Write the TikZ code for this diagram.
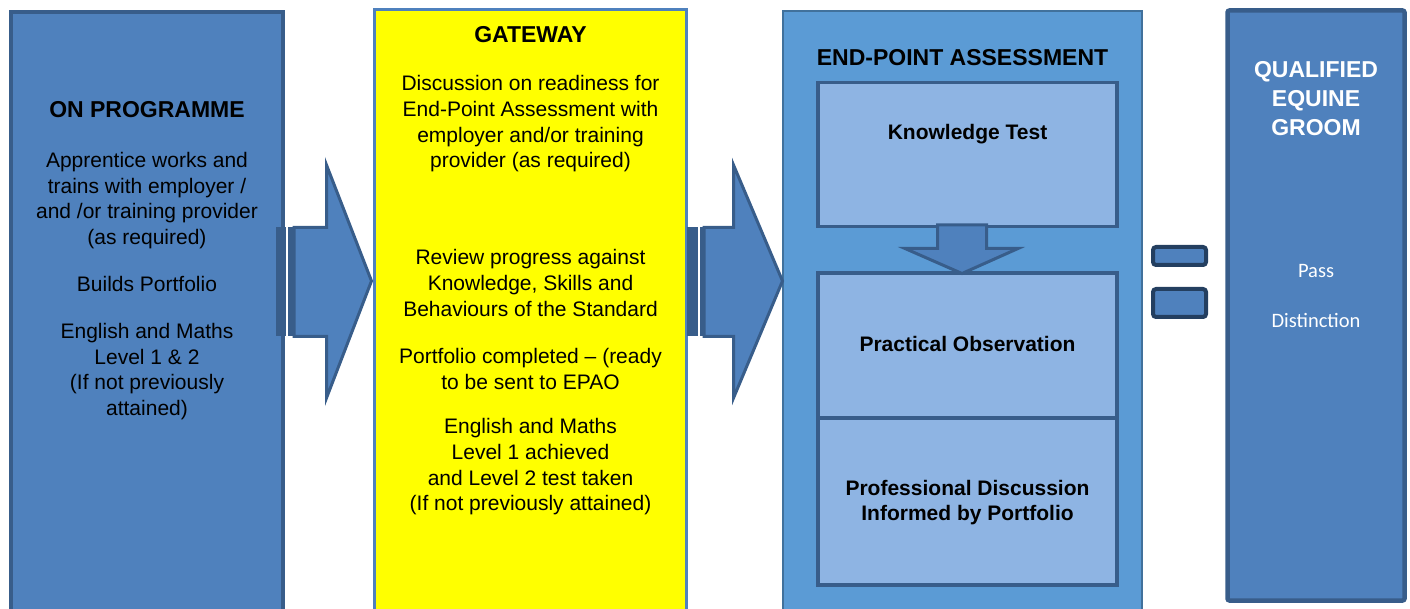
\documentclass[tikz,border=0pt]{standalone}
\usepackage{fontspec}
\setmainfont{Liberation Sans}
\newfontfamily\carlito{Carlito}
\definecolor{mid}{HTML}{4F81BD}
\definecolor{dk}{HTML}{385D8A}
\definecolor{epa}{HTML}{5B9BD5}
\definecolor{epaline}{HTML}{41719C}
\definecolor{inner}{HTML}{8EB4E3}
\definecolor{eqline}{HTML}{243F60}
\definecolor{gwyellow}{HTML}{FFFF00}
\tikzset{
  colbox/.style={anchor=north west, inner sep=0pt, outer sep=0pt},
  innerbox/.style={colbox, fill=inner, draw=dk, line width=3.5pt, minimum width=299pt},
  body/.style={align=center, inner sep=0pt, font=\fontsize{21}{25.7}\selectfont},
  title/.style={align=center, inner sep=0pt, font=\fontsize{23}{29}\selectfont\bfseries},
  bold/.style={align=center, inner sep=0pt, font=\fontsize{21}{25}\selectfont\bfseries},
  result/.style={inner sep=0pt, text=white, font=\carlito\fontsize{20.5}{24}\selectfont},
  blockarrow/.style={fill=mid, draw=dk, line width=3pt, line join=miter},
  stripe/.style={fill=dk},
  eqbar/.style={colbox, fill=mid, draw=eqline, line width=4pt, rounded corners=3pt, minimum width=53pt}
}
\begin{document}
\begin{tikzpicture}[x=1pt,y=-1pt]
\useasboundingbox (0,0) rectangle (1410,609);
\clip (0,0) rectangle (1410,609);
% column boxes
\node[colbox, fill=mid, draw=dk, line width=4pt, minimum width=272pt, minimum height=640pt] (onprog) at (11,12) {};
\node[colbox, fill=gwyellow, draw=mid, line width=3pt, minimum width=312pt, minimum height=640pt] (gateway) at (374.5,9.5) {};
\node[colbox, fill=epa, draw=epaline, line width=2.5pt, minimum width=359pt, minimum height=640pt] (epa) at (783,11) {};
\node[colbox, fill=mid, draw=dk, line width=4.5pt, rounded corners=2pt, minimum width=177pt, minimum height=590pt] (qual) at (1227.5,10.5) {};
% inner EPA boxes
\node[innerbox, minimum height=144pt] (kt) at (818,82.5) {};
\node[innerbox, minimum height=145pt] (po) at (818,273) {};
\node[innerbox, minimum height=167pt] (pd) at (818,418) {};
% striped arrow 1
\fill[stripe] (276,227.5) rectangle (285.5,336.5);
\fill[stripe] (287.5,227.5) rectangle (294,336.5);
\draw[blockarrow] (294,227.5) -- (326.5,227.5) -- (326.5,165) -- (371.5,281) -- (326.5,398) -- (326.5,336.5) -- (294,336.5) -- cycle;
% striped arrow 2
\fill[stripe] (687,227.5) rectangle (697.5,336.5);
\fill[stripe] (699.5,227.5) rectangle (704,336.5);
\draw[blockarrow] (704,227.5) -- (733.5,227.5) -- (733.5,165) -- (782.5,281) -- (733.5,398) -- (733.5,336.5) -- (704,336.5) -- cycle;
% down arrow
\draw[blockarrow] (937.5,225) -- (986.5,225) -- (986.5,248.5) -- (1018,248.5) -- (962,273.5) -- (905,248.5) -- (937.5,248.5) -- cycle;
% equals sign
\node[eqbar, minimum height=18pt] (eq1) at (1153,247) {};
\node[eqbar, minimum height=28pt] (eq2) at (1153,289) {};
% texts column 1
\node[title] (t1) at (147,110) {ON PROGRAMME};
\node[body] (t1a) at (147,200.5) {Apprentice works and\\trains with employer /\\and /or training provider\\(as required)};
\node[body] (t1b) at (147,284) {Builds Portfolio};
\node[body] (t1c) at (147,371.5) {English and Maths\\Level 1 \& 2\\(If not previously\\attained)};
% texts column 2
\node[title] (t2) at (530.5,35) {GATEWAY};
\node[body] (t2a) at (530.5,124) {Discussion on readiness for\\End-Point Assessment with\\employer and/or training\\provider (as required)};
\node[body] (t2b) at (530.5,283) {Review progress against\\Knowledge, Skills and\\Behaviours of the Standard};
\node[body] (t2c) at (530.5,369) {Portfolio completed – (ready\\to be sent to EPAO};
\node[body] (t2d) at (530.5,467) {English and Maths\\Level 1 achieved\\and Level 2 test taken\\(If not previously attained)};
% texts column 3
\node[title] (t3) at (962.5,58) {END-POINT ASSESSMENT};
\node[bold] (t3a) at (967.5,134) {Knowledge Test};
\node[bold] (t3b) at (967.5,344) {Practical Observation};
\node[bold] (t3c) at (967.5,503) {Professional Discussion\\Informed by Portfolio};
% texts column 4
\node[title, text=white] (t4) at (1316,99) {QUALIFIED\\EQUINE\\GROOM};
\node[result] (t4a) at (1316,271) {Pass};
\node[result] (t4b) at (1316,320) {Distinction};
\end{tikzpicture}
\end{document}
